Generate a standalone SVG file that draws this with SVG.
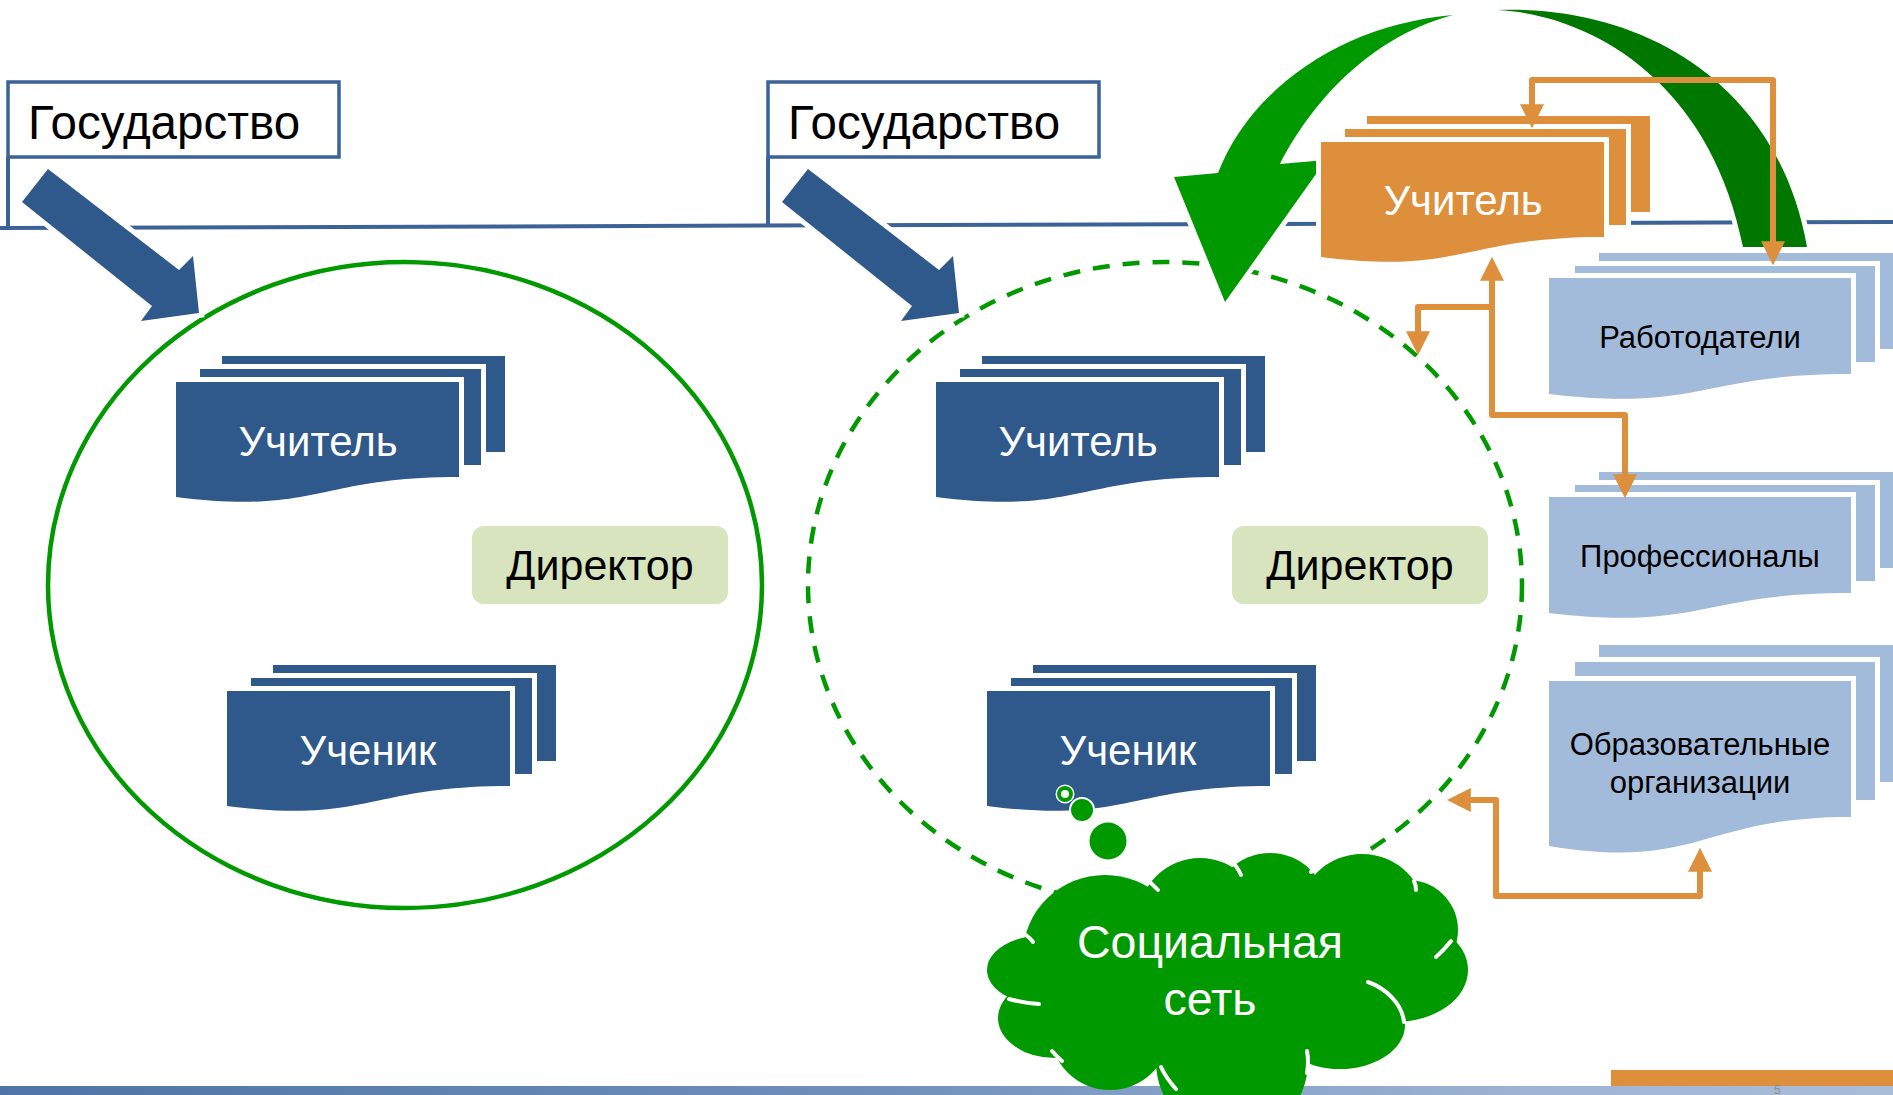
<svg xmlns="http://www.w3.org/2000/svg" width="1893" height="1095" viewBox="0 0 1893 1095">
<defs>
<style>
.t{font-family:"Liberation Sans",Arial,sans-serif}
.gov{fill:#fff;stroke:#3B6396;stroke-width:3.5}
.ln{fill:none;stroke:#3B6396;stroke-width:4}
.db{fill:#2F598B;stroke:#fff;stroke-width:10;paint-order:stroke}
.or{fill:#DD8F3C;stroke:#fff;stroke-width:10;paint-order:stroke}
.lb{fill:#A3BBDB;stroke:#fff;stroke-width:10;paint-order:stroke}
.dir{fill:#D7E4BD}
.wt{fill:#fff;font-size:42px;text-anchor:middle}
.bt{fill:#000;font-size:31px;text-anchor:middle}
.ba{fill:#2F598B;stroke:#fff;stroke-width:10;paint-order:stroke;stroke-linejoin:miter}
.ga{stroke:#fff;stroke-width:10;paint-order:stroke}
.oc{fill:none;stroke:#DD8F3C;stroke-width:6;stroke-linejoin:round}
.cl{fill:#009900}
.cw{fill:none;stroke:#fff;stroke-width:4;stroke-linecap:round}
</style>
<marker id="ah" viewBox="0 0 4 4" refX="0.3" refY="2" markerWidth="4" markerHeight="4" orient="auto-start-reverse" markerUnits="strokeWidth">
<path d="M0,0 L4,2 L0,4 Z" fill="#DD8F3C"/>
</marker>
<linearGradient id="bar" x1="0" y1="0" x2="1" y2="0">
<stop offset="0" stop-color="#4E74A5"/>
<stop offset="0.47" stop-color="#7090BB"/>
<stop offset="0.82" stop-color="#9FB5D4"/>
<stop offset="1" stop-color="#A9BDD9"/>
</linearGradient>
</defs>
<rect width="1893" height="1095" fill="#fff"/>

<g id="lines">
<line class="ln" x1="0" y1="228" x2="1893" y2="222"/>
<line class="ln" x1="8" y1="157" x2="8" y2="228"/>
<line class="ln" x1="768" y1="157" x2="768" y2="226"/>
</g>

<g id="state-left">
<rect class="gov" x="8" y="82" width="331" height="75"/>
<text class="t" x="28" y="139" font-size="47.5">Государство</text>
</g>
<g id="state-mid">
<rect class="gov" x="768" y="82" width="331" height="75"/>
<text class="t" x="788" y="139" font-size="47.5">Государство</text>
</g>

<g id="school-left">
<ellipse cx="405" cy="585" rx="357" ry="323" fill="none" stroke="#009900" stroke-width="4.5"/>
</g>
<g id="school-mid">
<ellipse cx="1165" cy="585" rx="357" ry="323" fill="none" stroke="#009900" stroke-width="4.5" stroke-dasharray="17 13"/>
</g>

<g id="gov-arrows">
<polygon class="ba" points="22,202 48,169 179,270 193,256 199,313 141,321 152,306"/>
<polygon class="ba" points="782,202 808,169 939,270 953,256 959,313 901,321 912,306"/>
</g>

<g id="cycle-arrows">
<path class="ga" fill="#007800" d="M1498,10 C1650,5 1780,90 1807,247 L1743,247 C1710,80 1590,15 1498,10 Z"/>
<path class="ga" fill="#009900" d="M1453,15 C1340,25 1250,90 1218,173 L1174,177 L1225,302 L1326,160 L1280,164 C1305,115 1360,40 1453,15 Z"/>
</g>

<g id="teacher-left">
<rect class="db" x="222" y="356" width="283" height="96"/>
<rect class="db" x="200" y="369" width="281" height="96"/>
<path class="db" d="M176,382 H459 V477 C317,477 317,515 176,497 Z"/>
<text class="t wt" x="318" y="456">Учитель</text>
</g>
<g id="pupil-left">
<rect class="db" x="273" y="665" width="283" height="96"/>
<rect class="db" x="251" y="678" width="281" height="96"/>
<path class="db" d="M227,691 H510 V786 C368,786 368,824 227,806 Z"/>
<text class="t wt" x="368" y="765">Ученик</text>
</g>
<g id="director-left">
<rect class="dir" x="472" y="526" width="256" height="78" rx="12"/>
<text class="t" x="600" y="580" font-size="43" text-anchor="middle">Директор</text>
</g>

<g id="teacher-mid">
<rect class="db" x="982" y="356" width="283" height="96"/>
<rect class="db" x="960" y="369" width="281" height="96"/>
<path class="db" d="M936,382 H1219 V477 C1077,477 1077,515 936,497 Z"/>
<text class="t wt" x="1078" y="456">Учитель</text>
</g>
<g id="pupil-mid">
<rect class="db" x="1033" y="665" width="283" height="96"/>
<rect class="db" x="1011" y="678" width="281" height="96"/>
<path class="db" d="M987,691 H1270 V786 C1128,786 1128,824 987,806 Z"/>
<text class="t wt" x="1128" y="765">Ученик</text>
</g>
<g id="director-mid">
<rect class="dir" x="1232" y="526" width="256" height="78" rx="12"/>
<text class="t" x="1360" y="580" font-size="43" text-anchor="middle">Директор</text>
</g>

<g id="teacher-top">
<rect class="or" x="1367" y="116" width="283" height="96"/>
<rect class="or" x="1345" y="129" width="281" height="96"/>
<path class="or" d="M1321,142 H1604 V237 C1462,237 1462,275 1321,257 Z"/>
<text class="t wt" x="1463" y="215">Учитель</text>
</g>

<g id="employers">
<rect class="lb" x="1599" y="253" width="302" height="96"/>
<rect class="lb" x="1575" y="266" width="300" height="96"/>
<path class="lb" d="M1549,278 H1851 V374 C1700,374 1700,412 1549,394 Z"/>
<text class="t bt" x="1700" y="348">Работодатели</text>
</g>
<g id="professionals">
<rect class="lb" x="1599" y="472" width="302" height="96"/>
<rect class="lb" x="1575" y="485" width="300" height="96"/>
<path class="lb" d="M1549,497 H1851 V593 C1700,593 1700,631 1549,613 Z"/>
<text class="t bt" x="1700" y="567">Профессионалы</text>
</g>
<g id="edu-orgs">
<rect class="lb" x="1599" y="645" width="302" height="137"/>
<rect class="lb" x="1575" y="662" width="300" height="138"/>
<path class="lb" d="M1549,681 H1851 V817 C1700,817 1700,871 1549,846 Z"/>
<text class="t bt" x="1700" y="755">Образовательные</text>
<text class="t bt" x="1700" y="793">организации</text>
</g>

<g id="connectors">
<path class="oc" d="M1532,106 V80 H1773 V243" marker-start="url(#ah)" marker-end="url(#ah)"/>
<path class="oc" d="M1492,279 V415 H1625 V476" marker-start="url(#ah)" marker-end="url(#ah)"/>
<path class="oc" d="M1492,307 H1418 V333" marker-end="url(#ah)"/>
<path class="oc" d="M1700,870 V896 H1496 V800 H1469" marker-start="url(#ah)" marker-end="url(#ah)"/>
</g>

<g id="footer">
<rect x="1611" y="1070" width="282" height="16" fill="#DD8F3C"/>
<rect x="0" y="1086" width="1893" height="9" fill="url(#bar)"/>
<text class="t" x="1774" y="1094" font-size="12" fill="#8A8A8A">5</text>
</g>

<g id="social-network">
<circle cx="1065" cy="794" r="8" fill="#009900" stroke="#fff" stroke-width="3" paint-order="stroke"/>
<circle cx="1065" cy="794" r="4" fill="#fff"/>
<circle cx="1082" cy="810" r="11" fill="#009900" stroke="#fff" stroke-width="4" paint-order="stroke"/>
<circle cx="1108" cy="841" r="18.5" fill="#009900"/>
<ellipse class="cl" cx="1220" cy="975" rx="190" ry="95"/>
<ellipse class="cl" cx="1105" cy="955" rx="82" ry="80"/>
<circle class="cl" cx="1200" cy="920" r="62"/>
<circle class="cl" cx="1270" cy="910" r="57"/>
<circle class="cl" cx="1362" cy="918" r="64"/>
<circle class="cl" cx="1408" cy="930" r="50"/>
<ellipse class="cl" cx="1395" cy="970" rx="73" ry="52"/>
<ellipse class="cl" cx="1340" cy="1025" rx="65" ry="44"/>
<circle class="cl" cx="1232" cy="1062" r="76"/>
<circle class="cl" cx="1110" cy="1030" r="60"/>
<ellipse class="cl" cx="1055" cy="1018" rx="57" ry="40"/>
<ellipse class="cl" cx="1045" cy="970" rx="58" ry="35"/>
<path class="cw" d="M1145,879 Q1152,883 1158,890"/>
<path class="cw" d="M1231,861 Q1237,866 1241,875"/>
<path class="cw" d="M1311,872 Q1314,866 1319,862"/>
<path class="cw" d="M1414,881 Q1416,885 1416,890"/>
<path class="cw" d="M1436,957 Q1444,950 1451,941"/>
<path class="cw" d="M1368,982 C1385,988 1402,1003 1404,1022"/>
<path class="cw" d="M1307,1051 Q1309,1061 1307,1073"/>
<path class="cw" d="M1161,1067 Q1166,1078 1176,1089"/>
<path class="cw" d="M1052,1051 Q1057,1057 1062,1061"/>
<path class="cw" d="M1009,999 Q1024,1003 1039,1004"/>
<path class="cw" d="M1026,935 Q1030,938 1033,942"/>
<text class="t" x="1210" y="958" font-size="46.5" fill="#fff" text-anchor="middle">Социальная</text>
<text class="t" x="1210" y="1015" font-size="46.5" fill="#fff" text-anchor="middle">сеть</text>
</g>
</svg>
